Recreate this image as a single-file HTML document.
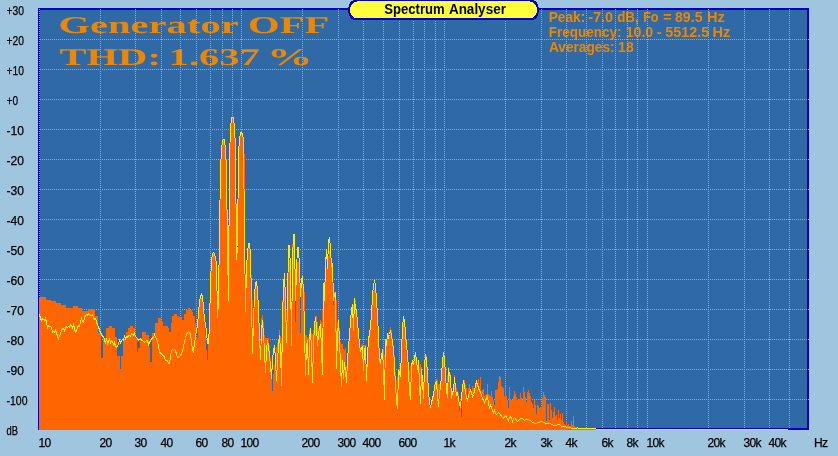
<!DOCTYPE html>
<html lang="en">
<head>
<meta charset="utf-8">
<title>Spectrum Analyser</title>
<style>
html,body{margin:0;padding:0}
body{width:838px;height:456px;overflow:hidden;background:#9fc5df;position:relative;font-family:"Liberation Sans",sans-serif}
svg text{white-space:pre}
</style>
</head>
<body>
<svg width="838" height="456" viewBox="0 0 838 456" shape-rendering="crispEdges" style="position:absolute;left:0;top:0;will-change:transform">
<rect x="38" y="8" width="771" height="422" fill="#0000c8"/>
<rect x="40" y="10" width="767" height="418" fill="#2f6aa7"/>
<g fill="#ee8700" font-family="'Liberation Serif', serif" font-weight="bold" font-size="24px" text-rendering="geometricPrecision">
<text transform="translate(58.5 32.6) scale(1.69 1)">Generator OFF</text>
<text transform="translate(59.5 64.6) scale(1.69 1)">THD:</text>
<text transform="translate(168.6 64.6) scale(1.69 1)">1.637</text>
<text transform="translate(267.1 64.6) scale(1.9 1)">%</text>
</g>
<g fill="#ee8700" font-family="'Liberation Sans', sans-serif" font-weight="bold" font-size="14px">
<text x="548.65" y="22" textLength="36.6" lengthAdjust="spacingAndGlyphs">Peak:</text>
<text x="588.35" y="22" textLength="24.75" lengthAdjust="spacingAndGlyphs">-7.0</text>
<text x="617.2" y="22" textLength="21.5" lengthAdjust="spacingAndGlyphs">dB,</text>
<text x="643.2" y="22" textLength="15.3" lengthAdjust="spacingAndGlyphs">Fo</text>
<text x="663.35" y="22" textLength="8.35" lengthAdjust="spacingAndGlyphs">=</text>
<text x="675.0" y="22" textLength="27.5" lengthAdjust="spacingAndGlyphs">89.5</text>
<text x="707.0" y="22" textLength="17.9" lengthAdjust="spacingAndGlyphs">Hz</text>
<text x="548.65" y="37" textLength="72.8" lengthAdjust="spacingAndGlyphs">Frequency:</text>
<text x="625.65" y="37" textLength="27.6" lengthAdjust="spacingAndGlyphs">10.0</text>
<text x="656.75" y="37" textLength="4.95" lengthAdjust="spacingAndGlyphs">-</text>
<text x="665.35" y="37" textLength="43.75" lengthAdjust="spacingAndGlyphs">5512.5</text>
<text x="712.45" y="37" textLength="17.9" lengthAdjust="spacingAndGlyphs">Hz</text>
<text x="548.95" y="52" textLength="65.65" lengthAdjust="spacingAndGlyphs">Averages:</text>
<text x="618.05" y="52" textLength="15.7" lengthAdjust="spacingAndGlyphs">18</text>
</g>
<g stroke="#c4b220" stroke-width="1" stroke-dasharray="1 1" fill="none">
<line x1="39.5" y1="9" x2="39.5" y2="428"/>
<line x1="100.5" y1="9" x2="100.5" y2="428"/>
<line x1="135.5" y1="9" x2="135.5" y2="428"/>
<line x1="161.5" y1="9" x2="161.5" y2="428"/>
<line x1="180.5" y1="9" x2="180.5" y2="428"/>
<line x1="196.5" y1="9" x2="196.5" y2="428"/>
<line x1="210.5" y1="9" x2="210.5" y2="428"/>
<line x1="222.5" y1="9" x2="222.5" y2="428"/>
<line x1="232.5" y1="9" x2="232.5" y2="428"/>
<line x1="241.5" y1="9" x2="241.5" y2="428"/>
<line x1="302.5" y1="9" x2="302.5" y2="428"/>
<line x1="338.5" y1="9" x2="338.5" y2="428"/>
<line x1="363.5" y1="9" x2="363.5" y2="428"/>
<line x1="383.5" y1="9" x2="383.5" y2="428"/>
<line x1="399.5" y1="9" x2="399.5" y2="428"/>
<line x1="413.5" y1="9" x2="413.5" y2="428"/>
<line x1="424.5" y1="9" x2="424.5" y2="428"/>
<line x1="435.5" y1="9" x2="435.5" y2="428"/>
<line x1="444.5" y1="9" x2="444.5" y2="428"/>
<line x1="505.5" y1="9" x2="505.5" y2="428"/>
<line x1="541.5" y1="9" x2="541.5" y2="428"/>
<line x1="566.5" y1="9" x2="566.5" y2="428"/>
<line x1="586.5" y1="9" x2="586.5" y2="428"/>
<line x1="602.5" y1="9" x2="602.5" y2="428"/>
<line x1="615.5" y1="9" x2="615.5" y2="428"/>
<line x1="627.5" y1="9" x2="627.5" y2="428"/>
<line x1="637.5" y1="9" x2="637.5" y2="428"/>
<line x1="647.5" y1="9" x2="647.5" y2="428"/>
<line x1="708.5" y1="9" x2="708.5" y2="428"/>
<line x1="744.5" y1="9" x2="744.5" y2="428"/>
<line x1="769.5" y1="9" x2="769.5" y2="428"/>
<line x1="789.5" y1="9" x2="789.5" y2="428"/>
<line x1="40" y1="39.5" x2="809" y2="39.5"/>
<line x1="40" y1="69.5" x2="809" y2="69.5"/>
<line x1="40" y1="99.5" x2="809" y2="99.5"/>
<line x1="40" y1="129.5" x2="809" y2="129.5"/>
<line x1="40" y1="159.5" x2="809" y2="159.5"/>
<line x1="40" y1="189.5" x2="809" y2="189.5"/>
<line x1="40" y1="219.5" x2="809" y2="219.5"/>
<line x1="40" y1="249.5" x2="809" y2="249.5"/>
<line x1="40" y1="279.5" x2="809" y2="279.5"/>
<line x1="40" y1="309.5" x2="809" y2="309.5"/>
<line x1="40" y1="339.5" x2="809" y2="339.5"/>
<line x1="40" y1="369.5" x2="809" y2="369.5"/>
<line x1="40" y1="399.5" x2="809" y2="399.5"/>
</g>
<path d="M39 430V297H46V300H51V301H56V303H61V305H66V308H73V306H78V308H82V311H88V309H95V316H98V333H101V358H103V338H106V328H109V326H112V328H115V337H117V356H120V369H121V356H123V340H126V332H128V328H130V326H133V328H135V337H137V352H138V348H140V340H142V332H146V335H149V347H150V362H152V333H155V323H158V318H161V322H163V326H168V328H169V332H171V323H172V316H174V314H177V316H179V317H182V320H184V314H186V310H188V308H190V310H192V312H193V316H195V323H196V338H198V311H199V300H200V298H203V307H204V322H205V335H206V350H207V360H208V340H209V310H210V280H211V259H212V253H213V252H214V253H215V259H216V262H217V317H218V268H219V200H220V170H221V150H222V141H223V140H225V150H226V170H227V209H228V235H229V158H230V129H231V118H234V129H235V147H236V203H237V250H238V154H239V140H240V133H242V135H243V140H244V154H245V273H246V268H247V254H248V244H249V243H250V254H251V275H252V300H253V318H254V296H255V283H256V282H257V291H258V310H259V325H260V340H261V318H262V315H263V322H264V335H265V338H269V345H270V358H271V368H272V391H273V374H274V365H275V352H276V347H277V343H278V340H279V330H280V336H281V338H282V300H283V283H284V277H285V290H286V310H287V305H288V262H289V260H290V261H291V298H292V244H294V250H295V322H296V262H299V265H300V333H301V285H302V280H303V287H304V292H305V335H307V337H308V338H309V330H310V328H311V333H312V334H313V330H314V322H315V316H317V322H318V328H319V326H320V320H321V322H322V310H323V290H324V295H325V270H326V268H327V265H328V256H329V251H330V252H331V264H332V266H333V305H334V292H336V300H337V322H338V320H339V328H340V342H341V344H343V349H344V350H345V348H346V366H347V355H348V345H349V335H350V318H351V310H352V306H353V305H354V298H355V300H356V311H357V320H358V328H359V340H360V347H361V345H362V344H363V346H364V345H366V377H367V350H368V340H369V336H370V328H371V320H372V300H373V291H374V290H375V291H376V305H377V315H378V330H379V358H380V359H382V350H383V349H384V355H385V340H386V342H387V338H388V333H389V335H390V327H391V330H392V338H393V345H394V355H395V372H396V380H397V377H398V372H399V370H400V375H401V350H402V330H403V323H405V330H406V345H407V350H408V362H409V370H410V366H411V362H412V360H414V358H415V354H416V358H417V366H418V360H419V367H420V364H421V367H422V378H423V388H424V364H425V355H426V356H427V370H428V385H429V404H430V405H431V400H432V397H433V393H434V384H435V379H437V380H438V384H440V386H441V372H442V363H443V353.5H444V360H445V372H446V383H447V375H448V367H449V374H451V388H452V393H453V390H454V375H455V386H456V388H457V391H458V393H459V411H460V400H461V417H462V392H463V384H464V380H465V385H466V388H467V402H468V388H469V384H470V390H471V396H472V386H473V388H474V392H475V384H476V380H477V389H478V379H479V386H480V377H481V391H482V390H483V389H484V396H485V395H486V394H487V384H488V394H489V395H490V396H491V391H492V397H493V400H494V405H495V390H497V389H498V382H499V376H500V377H501V386H502V387H503V388H504V396H505V386H506V396H507V400H508V408H509V387H510V399H511V400H513V396H514V391H515V394H516V397H517V400H519V399H520V393H521V398H522V400H523V387H524V392H525V397H526V402H527V392H528V390H529V393H530V396H531V402H532V404H533V408H534V400H535V405H536V414H537V405H538V406H539V408H540V407H542V398H543V392H544V395H545V397H546V421H547V404H549V420H550V403H551V410H552V418H553V412H554V407H555V416H556V415H557V420H558V410H559V418H560V414H561V420H562V413H563V422H564V424H565V425H566V421H567V425H568V424H569V426H571V421H572V425H573V416H574V426H575V427H578V428H596V430Z" fill="#ff6600"/>
<polyline points="39.5,314.5 40.5,318.5 41.5,320.5 42.5,318.5 43.5,319.5 44.5,320.5 45.5,318.5 46.5,322.5 47.5,327.5 48.5,325.5 49.5,326.5 50.5,326.5 51.5,327.5 52.5,332.5 53.5,331.5 54.5,332.5 55.5,330.5 56.5,332.5 57.5,336.5 58.5,338.5 59.5,335.5 60.5,334.5 61.5,330.5 62.5,328.5 63.5,328.5 64.5,330.5 65.5,328.5 66.5,326.5 67.5,327.5 68.5,326.5 69.5,327.5 70.5,324.5 71.5,325.5 72.5,327.5 73.5,324.5 74.5,328.5 75.5,332.5 76.5,331.5 77.5,327.5 78.5,325.5 79.5,326.5 80.5,321.5 81.5,318.5 82.5,321.5 83.5,322.5 84.5,317.5 85.5,315.5 86.5,314.5 87.5,315.5 88.5,313.5 89.5,314.5 90.5,315.5 91.5,315.5 92.5,314.5 93.5,317.5 94.5,319.5 95.5,318.5 96.5,321.5 97.5,325.5 98.5,326.5 99.5,330.5 100.5,332.5 101.5,334.5 102.5,336.5 103.5,336.5 104.5,339.5 105.5,343.5 106.5,338.5 107.5,343.5 108.5,341.5 109.5,339.5 110.5,342.5 111.5,340.5 112.5,341.5 113.5,344.5 114.5,342.5 115.5,346.5 116.5,347.5 117.5,345.5 118.5,344.5 119.5,340.5 120.5,342.5 121.5,340.5 122.5,339.5 123.5,340.5 124.5,336.5 125.5,338.5 126.5,336.5 127.5,337.5 128.5,335.5 129.5,335.5 130.5,336.5 131.5,333.5 132.5,334.5 133.5,335.5 134.5,333.5 135.5,336.5 136.5,337.5 137.5,338.5 138.5,340.5 139.5,339.5 140.5,338.5 141.5,340.5 142.5,340.5 143.5,341.5 144.5,342.5 145.5,341.5 146.5,340.5 147.5,340.5 148.5,344.5 149.5,342.5 150.5,340.5 151.5,339.5 152.5,337.5 153.5,337.5 154.5,334.5 155.5,337.5 156.5,338.5 157.5,341.5 158.5,346.5 159.5,351.5 160.5,353.5 161.5,353.5 162.5,355.5 163.5,355.5 164.5,357.5 165.5,360.5 166.5,360.5 167.5,360.5 168.5,363.5 169.5,363.5 170.5,356.5 171.5,350.5 172.5,349.5 173.5,350.5 174.5,349.5 175.5,350.5 176.5,354.5 177.5,357.5 178.5,357.5 179.5,356.5 180.5,355.5 181.5,353.5 182.5,350.5 183.5,347.5 184.5,341.5 185.5,338.5 186.5,334.5 187.5,332.5 188.5,331.5 189.5,332.5 190.5,334.5 191.5,341.5 192.5,349.5 193.5,351.5 194.5,343.5 195.5,336.5 196.5,330.5 197.5,325.5 198.5,312.5 199.5,301.5 200.5,296.5 201.5,294.5 202.5,296.5 203.5,306.5 204.5,320.5 205.5,323.5 206.5,332.5 207.5,343.5 208.5,343.5 209.5,325.5 210.5,282.5 211.5,260.5 212.5,253.5 213.5,252.5 214.5,253.5 215.5,258.5 216.5,263.5 217.5,317.5 218.5,300.5 219.5,232.5 220.5,169.5 221.5,149.5 222.5,140.5 223.5,139.5 224.5,139.5 225.5,149.5 226.5,169.5 227.5,248.5 228.5,300.5 229.5,157.5 230.5,128.5 231.5,117.5 232.5,117.5 233.5,117.5 234.5,128.5 235.5,146.5 236.5,259.5 237.5,246.5 238.5,153.5 239.5,139.5 240.5,132.5 241.5,132.5 242.5,134.5 243.5,139.5 244.5,235.5 245.5,311.5 246.5,267.5 247.5,253.5 248.5,243.5 249.5,243.5 250.5,253.5 251.5,300.5 252.5,353.5 253.5,320.5 254.5,295.5 255.5,282.5 256.5,281.5 257.5,290.5 258.5,309.5 259.5,335.5 260.5,359.5 261.5,330.5 262.5,320.5 263.5,335.5 264.5,350.5 265.5,372.5 266.5,350.5 267.5,340.5 268.5,345.5 269.5,355.5 270.5,365.5 271.5,378.5 272.5,360.5 273.5,350.5 274.5,345.5 275.5,360.5 276.5,380.5 277.5,360.5 278.5,345.5 279.5,335.5 280.5,350.5 281.5,385.5 282.5,320.5 283.5,285.5 284.5,273.5 285.5,300.5 286.5,342.5 287.5,300.5 288.5,245.5 289.5,245.5 290.5,270.5 291.5,345.5 292.5,260.5 293.5,234.5 294.5,234.5 295.5,300.5 296.5,270.5 297.5,247.5 298.5,247.5 299.5,268.5 300.5,296.5 301.5,279.5 302.5,277.5 303.5,290.5 304.5,330.5 305.5,375.5 306.5,345.5 307.5,340.5 308.5,374.5 309.5,340.5 310.5,328.5 311.5,350.5 312.5,382.5 313.5,345.5 314.5,325.5 315.5,317.5 316.5,325.5 317.5,345.5 318.5,335.5 319.5,327.5 320.5,324.5 321.5,350.5 322.5,374.5 323.5,283.5 324.5,300.5 325.5,265.5 326.5,249.5 327.5,268.5 328.5,240.5 329.5,237.5 330.5,248.5 331.5,266.5 332.5,263.5 333.5,300.5 334.5,293.5 335.5,292.5 336.5,368.5 337.5,335.5 338.5,320.5 339.5,340.5 340.5,365.5 341.5,386.5 342.5,360.5 343.5,378.5 344.5,362.5 345.5,370.5 346.5,382.5 347.5,360.5 348.5,345.5 349.5,336.5 350.5,320.5 351.5,310.5 352.5,304.5 353.5,330.5 354.5,298.5 355.5,308.5 356.5,310.5 357.5,322.5 358.5,332.5 359.5,345.5 360.5,350.5 361.5,348.5 362.5,346.5 363.5,370.5 364.5,350.5 365.5,346.5 366.5,380.5 367.5,355.5 368.5,338.5 369.5,334.5 370.5,325.5 371.5,315.5 372.5,295.5 373.5,285.5 374.5,280.5 375.5,285.5 376.5,300.5 377.5,315.5 378.5,335.5 379.5,360.5 380.5,362.5 381.5,356.5 382.5,349.5 383.5,370.5 384.5,399.5 385.5,339.5 386.5,345.5 387.5,333.5 388.5,337.5 389.5,334.5 390.5,330.5 391.5,334.5 392.5,342.5 393.5,348.5 394.5,365.5 395.5,385.5 396.5,400.5 397.5,408.5 398.5,370.5 399.5,372.5 400.5,376.5 401.5,350.5 402.5,328.5 403.5,316.5 404.5,320.5 405.5,332.5 406.5,346.5 407.5,352.5 408.5,370.5 409.5,392.5 410.5,399.5 411.5,365.5 412.5,361.5 413.5,363.5 414.5,358.5 415.5,352.5 416.5,360.5 417.5,369.5 418.5,360.5 419.5,385.5 420.5,403.5 421.5,369.5 422.5,380.5 423.5,398.5 424.5,366.5 425.5,354.5 426.5,358.5 427.5,375.5 428.5,390.5 429.5,402.5 430.5,407.5 431.5,402.5 432.5,398.5 433.5,394.5 434.5,388.5 435.5,382.5 436.5,381.5 437.5,395.5 438.5,406.5 439.5,392.5 440.5,387.5 441.5,374.5 442.5,362.5 443.5,352.5 444.5,358.5 445.5,375.5 446.5,390.5 447.5,397.5 448.5,368.5 449.5,374.5 450.5,376.5 451.5,398.5 452.5,392.5 453.5,390.5 454.5,377.5 455.5,388.5 456.5,395.5 457.5,392.5 458.5,398.5 459.5,404.5 460.5,406.5 461.5,396.5 462.5,388.5 463.5,380.5 464.5,384.5 465.5,392.5 466.5,397.5 467.5,400.5 468.5,395.5 469.5,392.5 470.5,390.5 471.5,392.5 472.5,396.5 473.5,394.5 474.5,390.5 475.5,385.5 476.5,381.5 477.5,384.5 478.5,388.5 479.5,390.5 480.5,392.5 481.5,395.5 482.5,398.5 483.5,400.5 484.5,402.5 485.5,400.5 486.5,398.5 487.5,396.5 488.5,402.5 489.5,408.5 490.5,405.5 491.5,407.5 492.5,410.5 493.5,412.5 494.5,410.5 495.5,413.5 496.5,414.5 497.5,413.5 498.5,412.5 499.5,413.5 500.5,414.5 501.5,416.5 502.5,417.5 503.5,418.5 504.5,416.5 505.5,415.5 506.5,417.5 507.5,418.5 508.5,420.5 509.5,417.5 510.5,416.5 511.5,418.5 512.5,421.5 513.5,418.5 514.5,417.5 515.5,418.5 516.5,420.5 517.5,421.5 518.5,420.5 519.5,419.5 520.5,418.5 521.5,418.5 522.5,418.5 523.5,419.5 524.5,420.5 525.5,419.5 526.5,419.5 527.5,419.5 528.5,419.5 529.5,420.5 530.5,420.5 531.5,421.5 532.5,422.5 533.5,422.5 534.5,423.5 535.5,423.5 536.5,423.5 537.5,422.5 538.5,422.5 539.5,422.5 540.5,421.5 541.5,421.5 542.5,421.5 543.5,422.5 544.5,422.5 545.5,423.5 546.5,423.5 547.5,423.5 548.5,423.5 549.5,423.5 550.5,423.5 551.5,424.5 552.5,424.5 553.5,425.5 554.5,425.5 555.5,425.5 556.5,425.5 557.5,424.5 558.5,424.5 559.5,424.5 560.5,425.5 561.5,426.5 562.5,426.5 563.5,426.5 564.5,426.5 565.5,426.5 566.5,427.5 567.5,427.5 568.5,427.5 569.5,427.5 570.5,427.5 571.5,428.5 572.5,428.5 573.5,428.5 574.5,428.5 575.5,428.5 576.5,428.5 577.5,427.5 578.5,428.5 579.5,428.5 580.5,428.5 581.5,428.5 582.5,428.5 583.5,428.5 584.5,428.5 585.5,428.5 586.5,428.5 587.5,428.5 588.5,428.5 589.5,428.5 590.5,428.5 591.5,428.5 592.5,428.5 593.5,428.5 594.5,428.5 595.5,428.5 596.5,429.5 597.5,429.5 598.5,429.5 599.5,429.5 600.5,429.5 601.5,429.5 602.5,429.5 603.5,429.5 604.5,429.5 605.5,429.5 606.5,429.5 607.5,429.5 608.5,429.5 609.5,429.5 610.5,429.5 611.5,429.5 612.5,429.5 613.5,429.5 614.5,429.5 615.5,429.5 616.5,429.5 617.5,429.5 618.5,429.5 619.5,429.5 620.5,429.5 621.5,429.5 622.5,429.5 623.5,429.5 624.5,429.5 625.5,429.5 626.5,429.5 627.5,429.5 628.5,429.5 629.5,429.5 630.5,429.5 631.5,429.5 632.5,429.5 633.5,429.5 634.5,429.5 635.5,429.5 636.5,429.5 637.5,429.5 638.5,429.5 639.5,429.5 640.5,429.5 641.5,429.5 642.5,429.5 643.5,429.5 644.5,429.5 645.5,429.5 646.5,429.5 647.5,429.5 648.5,429.5 649.5,429.5 650.5,429.5 651.5,429.5 652.5,429.5 653.5,429.5 654.5,429.5 655.5,429.5 656.5,429.5 657.5,429.5 658.5,429.5 659.5,429.5 660.5,429.5 661.5,429.5 662.5,429.5 663.5,429.5 664.5,429.5 665.5,429.5 666.5,429.5 667.5,429.5 668.5,429.5 669.5,429.5 670.5,429.5 671.5,429.5 672.5,429.5 673.5,429.5 674.5,429.5 675.5,429.5 676.5,429.5 677.5,429.5 678.5,429.5 679.5,429.5 680.5,429.5 681.5,429.5 682.5,429.5 683.5,429.5 684.5,429.5 685.5,429.5 686.5,429.5 687.5,429.5 688.5,429.5 689.5,429.5 690.5,429.5 691.5,429.5 692.5,429.5 693.5,429.5 694.5,429.5 695.5,429.5 696.5,429.5 697.5,429.5 698.5,429.5 699.5,429.5 700.5,429.5 701.5,429.5 702.5,429.5 703.5,429.5 704.5,429.5 705.5,429.5 706.5,429.5 707.5,429.5 708.5,429.5 709.5,429.5 710.5,429.5 711.5,429.5 712.5,429.5 713.5,429.5 714.5,429.5 715.5,429.5 716.5,429.5 717.5,429.5 718.5,429.5 719.5,429.5 720.5,429.5 721.5,429.5 722.5,429.5 723.5,429.5 724.5,429.5 725.5,429.5 726.5,429.5 727.5,429.5 728.5,429.5 729.5,429.5 730.5,429.5 731.5,429.5 732.5,429.5 733.5,429.5 734.5,429.5 735.5,429.5 736.5,429.5 737.5,429.5 738.5,429.5 739.5,429.5 740.5,429.5 741.5,429.5 742.5,429.5 743.5,429.5 744.5,429.5 745.5,429.5 746.5,429.5 747.5,429.5 748.5,429.5 749.5,429.5 750.5,429.5 751.5,429.5 752.5,429.5 753.5,429.5 754.5,429.5 755.5,429.5 756.5,429.5 757.5,429.5 758.5,429.5 759.5,429.5 760.5,429.5 761.5,429.5 762.5,429.5 763.5,429.5 764.5,429.5 765.5,429.5 766.5,429.5 767.5,429.5 768.5,429.5 769.5,429.5 770.5,429.5 771.5,429.5 772.5,429.5 773.5,429.5 774.5,429.5 775.5,429.5 776.5,429.5 777.5,429.5 778.5,429.5 779.5,429.5 780.5,429.5 781.5,429.5 782.5,429.5 783.5,429.5 784.5,429.5 785.5,429.5 786.5,429.5 787.5,429.5" fill="none" stroke="#ffee00" stroke-width="1" stroke-linejoin="miter" shape-rendering="crispEdges"/>
<path d="M353 0H534V1H353ZM351 1H536V2H351ZM350 2H537V3H350ZM350 3H537V4H350ZM349 4H538V5H349ZM349 5H538V6H349ZM349 6H538V7H349ZM348 7H539V8H348ZM348 8H539V9H348ZM348 9H539V10H348ZM348 10H539V11H348ZM348 11H539V12H348ZM348 12H539V13H348ZM349 13H538V14H349ZM349 14H538V15H349ZM349 15H538V16H349ZM350 16H537V17H350ZM350 17H537V18H350ZM351 18H536V19H351ZM353 19H534V20H353Z" fill="#0000c8"/>
<path d="M357 1H530V2H357ZM354 2H533V3H354ZM353 3H534V4H353ZM352 4H535V5H352ZM351 5H536V6H351ZM351 6H536V7H351ZM350 7H537V8H350ZM350 8H537V9H350ZM350 9H537V10H350ZM350 10H537V11H350ZM350 11H537V12H350ZM350 12H537V13H350ZM351 13H536V14H351ZM351 14H536V15H351ZM352 15H535V16H352ZM353 16H534V17H353ZM354 17H533V18H354Z" fill="#ffff3c"/>
<g font-family="'Liberation Sans', sans-serif" font-weight="bold" font-size="14px" fill="#000">
<text x="384.3" y="14" textLength="60.3" lengthAdjust="spacingAndGlyphs">Spectrum</text>
<text x="448.9" y="14" textLength="57" lengthAdjust="spacingAndGlyphs">Analyser</text>
</g>
<g fill="#000" stroke="#000" stroke-width="0.25" font-family="'Liberation Sans', sans-serif" font-size="12px">
<text x="6.5" y="15" textLength="17.5" lengthAdjust="spacingAndGlyphs">+30</text>
<text x="6.5" y="45" textLength="17.5" lengthAdjust="spacingAndGlyphs">+20</text>
<text x="6.5" y="75" textLength="17.5" lengthAdjust="spacingAndGlyphs">+10</text>
<text x="6.5" y="105" textLength="11.5" lengthAdjust="spacingAndGlyphs">+0</text>
<text x="6.5" y="135" textLength="17.5" lengthAdjust="spacingAndGlyphs">-10</text>
<text x="6.5" y="165" textLength="17.5" lengthAdjust="spacingAndGlyphs">-20</text>
<text x="6.5" y="195" textLength="17.5" lengthAdjust="spacingAndGlyphs">-30</text>
<text x="6.5" y="225" textLength="17.5" lengthAdjust="spacingAndGlyphs">-40</text>
<text x="6.5" y="255" textLength="17.5" lengthAdjust="spacingAndGlyphs">-50</text>
<text x="6.5" y="285" textLength="17.5" lengthAdjust="spacingAndGlyphs">-60</text>
<text x="6.5" y="315" textLength="17.5" lengthAdjust="spacingAndGlyphs">-70</text>
<text x="6.5" y="345" textLength="17.5" lengthAdjust="spacingAndGlyphs">-80</text>
<text x="6.5" y="375" textLength="17.5" lengthAdjust="spacingAndGlyphs">-90</text>
<text x="6.5" y="405" textLength="21" lengthAdjust="spacingAndGlyphs">-100</text>
<text x="6.5" y="435" textLength="11.5" lengthAdjust="spacingAndGlyphs">dB</text>
<text x="38.5" y="447" letter-spacing="-0.65">10</text>
<text x="99.5" y="447" letter-spacing="-0.65">20</text>
<text x="134.5" y="447" letter-spacing="-0.65">30</text>
<text x="160.5" y="447" letter-spacing="-0.65">40</text>
<text x="195.5" y="447" letter-spacing="-0.65">60</text>
<text x="221.5" y="447" letter-spacing="-0.65">80</text>
<text x="240.5" y="447" letter-spacing="-0.65">100</text>
<text x="301.5" y="447" letter-spacing="-0.65">200</text>
<text x="337.5" y="447" letter-spacing="-0.65">300</text>
<text x="362.5" y="447" letter-spacing="-0.65">400</text>
<text x="398.5" y="447" letter-spacing="-0.65">600</text>
<text x="443.5" y="447" letter-spacing="-0.65">1k</text>
<text x="504.5" y="447" letter-spacing="-0.65">2k</text>
<text x="540.5" y="447" letter-spacing="-0.65">3k</text>
<text x="565.5" y="447" letter-spacing="-0.65">4k</text>
<text x="601.5" y="447" letter-spacing="-0.65">6k</text>
<text x="626.5" y="447" letter-spacing="-0.65">8k</text>
<text x="646.5" y="447" letter-spacing="-0.65">10k</text>
<text x="707.5" y="447" letter-spacing="-0.65">20k</text>
<text x="743.5" y="447" letter-spacing="-0.65">30k</text>
<text x="768.5" y="447" letter-spacing="-0.65">40k</text>
<text x="814" y="447" letter-spacing="-0.6">Hz</text>
</g>
</svg>
</body>
</html>
